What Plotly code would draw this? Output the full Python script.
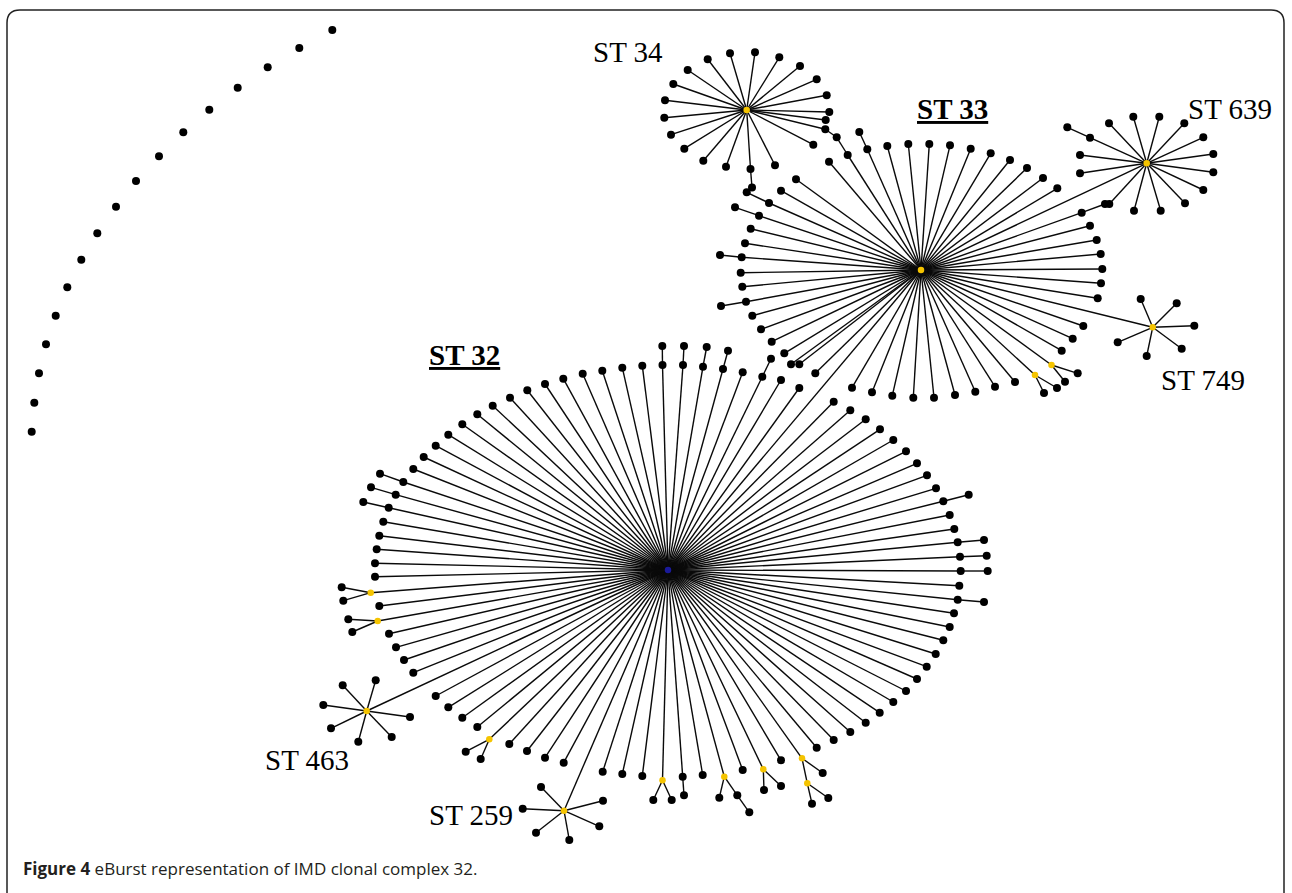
import plotly.graph_objects as go

W, H = 1292, 893

# ---- node data (pixel-like layout coordinates) ----
# star centres: name -> (x, y, colour kind)
CENTERS = {
    "ST 32": (668, 570, "b"),
    "ST 33": (921, 270, "y"),
    "ST 34": (746.7, 110, "y"),
    "ST 639": (1146.7, 163.3, "y"),
    "ST 749": (1152.7, 327.3, "y"),
    "ST 463": (366.7, 711, "y"),
    "ST 259": (564, 810.7, "y"),
}
LINKS = [("ST 32", "ST 33"), ("ST 33", "ST 639"), ("ST 33", "ST 749"),
         ("ST 32", "ST 463"), ("ST 32", "ST 259")]

ST32_LEAVES = [
    (375, 576.7, "k"), (375, 563.3, "k"), (376.7, 549.3, "k"), (379.3, 535.7, "k"), (383.3, 521.7, "k"),
    (388.7, 507.7, "k"), (395.7, 494.7, "k"), (403.3, 482, "k"), (413.3, 469, "k"), (423.7, 457, "k"),
    (435.7, 445.7, "k"), (448.3, 434.7, "k"), (462.3, 424.3, "k"), (477.3, 414.3, "k"), (492.7, 405.7, "k"),
    (510, 397.7, "k"), (527.3, 390.3, "k"), (545, 384, "k"), (563.3, 378.7, "k"), (582.7, 373.7, "k"),
    (602.3, 370.7, "k"), (622.3, 367.7, "k"), (642.3, 365.7, "k"), (662.5, 365, "k"), (683, 365, "k"),
    (703, 366.7, "k"), (723, 369, "k"), (742.7, 372.3, "k"), (762.3, 376.7, "k"), (781, 380, "k"),
    (799.3, 388, "k"), (833.7, 401.7, "k"), (850.3, 410.3, "k"), (865.7, 419.3, "k"), (880, 429.3, "k"),
    (893.3, 440, "k"), (906, 451.3, "k"), (917, 463.3, "k"), (927, 475.3, "k"), (936, 488.3, "k"),
    (943.3, 501.3, "k"), (949.7, 515, "k"), (954.3, 529, "k"), (957.7, 542.3, "k"), (960, 556.7, "k"),
    (960.7, 571, "k"), (959.3, 585.7, "k"), (957.7, 599.7, "k"), (954, 613.3, "k"), (949.7, 627, "k"),
    (943.3, 640.3, "k"), (935.7, 654, "k"), (926.7, 666.7, "k"), (917, 679, "k"), (906, 691, "k"),
    (893.3, 702, "k"), (879.7, 712.7, "k"), (865.7, 722.7, "k"), (850.3, 732, "k"), (833.7, 740, "k"),
    (816.7, 747.7, "k"), (802, 758.3, "y"), (781, 760.3, "k"), (763.3, 769.3, "y"), (742.7, 770, "k"),
    (724.3, 776.7, "y"), (702.7, 775, "k"), (682.7, 776.7, "k"), (662.5, 780.3, "y"), (642.3, 776, "k"),
    (622.3, 774, "k"), (602.7, 771.7, "k"), (563.7, 762.7, "k"), (545, 757.7, "k"), (527, 751, "k"),
    (509.3, 744, "k"), (489.3, 739.3, "y"), (477.3, 727, "k"), (462.3, 717.7, "k"), (448.3, 707.3, "k"),
    (435.7, 696, "k"), (413.3, 672.7, "k"), (404, 660, "k"), (396, 647.3, "k"), (389, 633.7, "k"),
    (377.7, 621, "y"), (379.3, 606, "k"), (370.7, 592.7, "y"),
]
ST32_CHILDREN = [
    (388.7, 507.7, 363.3, 502, "k"), (395.7, 494.7, 371, 487.3, "k"), (403.3, 482, 380, 473.7, "k"),
    (662.5, 365, 662.3, 346, "k"), (683, 365, 684, 346, "k"), (703, 366.7, 706.7, 347, "k"),
    (723, 369, 728, 350.7, "k"), (762.3, 376.7, 771, 358.7, "k"),
    (943.3, 501.3, 968.7, 494.7, "k"), (957.7, 542.3, 984, 540, "k"), (960, 556.7, 986.7, 555.7, "k"),
    (960.7, 571, 987.7, 571, "k"), (957.7, 599.7, 984, 602, "k"),
    (802, 758.3, 822.7, 773, "k"), (802, 758.3, 807.3, 783.3, "y"),
    (807.3, 783.3, 812, 803.7, "k"), (807.3, 783.3, 828.3, 798, "k"),
    (763.3, 769.3, 764, 790, "k"), (763.3, 769.3, 781, 786, "k"),
    (724.3, 776.7, 719.3, 797.7, "k"), (724.3, 776.7, 737.3, 795.3, "k"), (737.3, 795.3, 749.3, 812.3, "k"),
    (682.7, 776.7, 684, 795.3, "k"),
    (662.5, 780.3, 653.3, 800, "k"), (662.5, 780.3, 671.7, 800, "k"),
    (489.3, 739.3, 465.7, 751.7, "k"), (489.3, 739.3, 480.7, 759, "k"),
    (377.7, 621, 348.3, 619.3, "k"), (377.7, 621, 352.3, 632, "k"),
    (370.7, 592.7, 341.7, 587.3, "k"), (370.7, 592.7, 343.3, 600.7, "k"),
]

ST33_LEAVES = [
    (887.3, 146, "k"), (908.3, 144, "k"), (929.3, 144, "k"), (950, 145.3, "k"), (970.7, 148.7, "k"),
    (990.7, 153.3, "k"), (1010, 160, "k"), (1027, 168, "k"), (1043, 178, "k"), (1057.3, 188.3, "k"),
    (1081.7, 212.7, "k"), (1090, 225.7, "k"), (1096.7, 240, "k"), (1100.7, 254, "k"), (1102.3, 269, "k"),
    (1101, 283.3, "k"), (1097.7, 298.3, "k"), (1083.3, 326, "k"), (1072.7, 338.7, "k"), (1061.7, 350.7, "k"),
    (1051.5, 365, "y"), (1035, 375, "y"), (1015, 382, "k"), (995, 386.7, "k"), (975.3, 391.7, "k"),
    (955, 395, "k"), (934, 397.7, "k"), (913.3, 397.7, "k"), (892.3, 395.7, "k"), (872, 392.3, "k"),
    (852, 387.7, "k"), (815.3, 373.3, "k"), (799.3, 364.3, "k"), (791, 364.3, "k"), (784.3, 353.3, "k"),
    (771.7, 341.7, "k"), (761, 329.3, "k"), (752.3, 315.7, "k"), (746, 301.7, "k"), (742.3, 286.7, "k"),
    (740.7, 272.7, "k"), (741.7, 257.3, "k"), (745, 243.3, "k"), (750.7, 228.7, "k"), (759, 215.7, "k"),
    (769, 203, "k"), (781, 190.7, "k"), (796, 179.3, "k"), (829, 161.7, "k"), (847.7, 155, "k"),
    (867.3, 149.3, "k"),
]
ST33_CHILDREN = [
    (746, 301.7, 721, 306, "k"), (741.7, 257.3, 720, 255, "k"), (759, 215.7, 735, 207.3, "k"),
    (769, 203, 746.7, 192.3, "k"), (867.3, 149.3, 859.3, 132, "k"), (1081.7, 212.7, 1105, 204, "k"),
    (1051.5, 365, 1077.7, 373.3, "k"), (1051.5, 365, 1065, 381.7, "k"),
    (1035, 375, 1044, 393, "k"), (1035, 375, 1057, 388, "k"),
]

ST34_LEAVES = [
    (730, 53.3, "k"), (755, 52.3, "k"), (779.3, 57.3, "k"), (800, 66, "k"), (816.7, 79.3, "k"),
    (826.7, 95.3, "k"), (829.3, 112, "k"), (825.7, 120, "k"), (825.3, 129.3, "k"), (813.3, 144.7, "k"),
    (775, 165.3, "k"), (750.5, 169, "k"), (726, 166.7, "k"), (703.3, 160.7, "k"), (684.3, 148.7, "k"),
    (671, 134.7, "k"), (664.3, 117.7, "k"), (665, 100.3, "k"), (673.3, 84, "k"), (687.7, 70, "k"),
    (707.7, 59.3, "k"),
]
ST34_CHILDREN = [(750.5, 169, 752, 187.5, "k"), (825.3, 129.3, 836.7, 137.3, "k")]
BRIDGES = [(836.7, 137.3, 847.7, 155)]

ST639_LEAVES = [
    (1090, 137.7, "k"), (1109, 123.3, "k"), (1133.3, 116.7, "k"), (1159.3, 116.7, "k"), (1184.3, 123.3, "k"),
    (1203.3, 137.3, "k"), (1213.3, 154, "k"), (1213.3, 172.3, "k"), (1203.3, 190, "k"), (1185, 203.3, "k"),
    (1160.7, 210.7, "k"), (1134, 210.7, "k"), (1109.3, 204, "k"), (1080, 155, "k"), (1080, 173.3, "k"),
]
ST639_CHILDREN = [(1090, 137.7, 1067.3, 127.3, "k")]

ST749_LEAVES = [(1140.7, 299, "k"), (1176.7, 303.3, "k"), (1194.3, 325.7, "k"), (1181.7, 348.7, "k"),
                (1146.7, 356, "k"), (1117.7, 342.3, "k")]
ST463_LEAVES = [(342.7, 685.3, "k"), (375.7, 680.3, "k"), (323.3, 705, "k"), (410, 717, "k"),
                (331, 728.3, "k"), (358.3, 741.7, "k"), (391.7, 737, "k")]
ST259_LEAVES = [(522.7, 808.7, "k"), (541, 787, "k"), (603, 800.7, "k"), (599.3, 826.3, "k"),
                (536, 832.7, "k"), (569.3, 840, "k")]

SINGLETONS_X = [332.3, 299.3, 267.7, 237.7, 209.3, 183.3, 159, 136, 116, 97.3, 81.3, 67.3, 55.7, 46, 39, 34.3, 31.7]
SINGLETONS_Y = [30, 48, 67.3, 87.7, 109.7, 132.3, 156.3, 181, 206.7, 233.3, 259.7, 287.3, 315.7, 344.3, 373.3, 402.7, 431.7]

LABELS = [  # text, x, y, bold
    ("ST 34", 628, 52, False), ("ST 33", 952, 109, True), ("ST 639", 1230, 109, False),
    ("ST 749", 1203, 380, False), ("ST 32", 464, 355, True), ("ST 463", 307, 760, False),
    ("ST 259", 471, 815, False),
]
CAPTION_BOLD = "Figure 4"
CAPTION_TEXT = " eBurst representation of IMD clonal complex 32."

# ---- build graph ----
STARS = [("ST 32", ST32_LEAVES, ST32_CHILDREN), ("ST 33", ST33_LEAVES, ST33_CHILDREN),
         ("ST 34", ST34_LEAVES, ST34_CHILDREN), ("ST 639", ST639_LEAVES, ST639_CHILDREN),
         ("ST 749", ST749_LEAVES, []), ("ST 463", ST463_LEAVES, []), ("ST 259", ST259_LEAVES, [])]

ex, ey = [], []
nodes = {"k": ([], []), "y": ([], []), "b": ([], [])}


def edge(x0, y0, x1, y1):
    ex.extend([x0, x1, None])
    ey.extend([y0, y1, None])


for a, b in LINKS:
    edge(CENTERS[a][0], CENTERS[a][1], CENTERS[b][0], CENTERS[b][1])
for name, leaves, children in STARS:
    cx, cy, ck = CENTERS[name]
    for lx, ly, lk in leaves:
        edge(cx, cy, lx, ly)
        nodes[lk][0].append(lx)
        nodes[lk][1].append(ly)
    for px, py, qx, qy, qk in children:
        edge(px, py, qx, qy)
        nodes[qk][0].append(qx)
        nodes[qk][1].append(qy)
for px, py, qx, qy in BRIDGES:
    edge(px, py, qx, qy)
for name, (cx, cy, ck) in CENTERS.items():
    nodes[ck][0].append(cx)
    nodes[ck][1].append(cy)
nodes["k"][0].extend(SINGLETONS_X)
nodes["k"][1].extend(SINGLETONS_Y)

fig = go.Figure()
fig.add_trace(go.Scatter(x=ex, y=ey, mode="lines", line=dict(color="#0a0a0a", width=1.4),
                         hoverinfo="skip", showlegend=False))
fig.add_trace(go.Scatter(x=nodes["k"][0], y=nodes["k"][1], mode="markers",
                         marker=dict(color="#000000", size=8, line=dict(width=0)),
                         hoverinfo="skip", showlegend=False))
fig.add_trace(go.Scatter(x=nodes["y"][0], y=nodes["y"][1], mode="markers",
                         marker=dict(color="#f5c400", size=6.5, line=dict(width=0)),
                         hoverinfo="skip", showlegend=False))
fig.add_trace(go.Scatter(x=nodes["b"][0], y=nodes["b"][1], mode="markers",
                         marker=dict(color="#1a1a99", size=6.5, line=dict(width=0)),
                         hoverinfo="skip", showlegend=False))

annotations = []
for text, x, y, bold in LABELS:
    t = f"<b><u>{text}</u></b>" if bold else text
    annotations.append(dict(x=x, y=y, xref="x", yref="y", text=t, showarrow=False,
                            xanchor="center", yanchor="middle",
                            font=dict(family="Liberation Serif", size=29, color="#000000")))
annotations.append(dict(x=21, y=868, xref="x", yref="y", showarrow=False, xanchor="left", yanchor="middle",
                        text=f"<b>{CAPTION_BOLD}</b>{CAPTION_TEXT}",
                        font=dict(family="Open Sans", size=17, color="#231f20")))

frame = ("M 7,896 L 7,23 Q 7,10 20,10 L 1271,10 Q 1284,10 1284,23 L 1284,896")

fig.update_layout(
    width=W, height=H, margin=dict(l=0, r=0, t=0, b=0),
    paper_bgcolor="white", plot_bgcolor="white",
    xaxis=dict(range=[0, W], visible=False, fixedrange=True),
    yaxis=dict(range=[H, 0], visible=False, fixedrange=True),
    annotations=annotations,
    shapes=[dict(type="path", path=frame, xref="x", yref="y",
                 line=dict(color="#222222", width=1.5), layer="above")],
)

fig.write_html("out.html", config={"displayModeBar": False},
               post_script="document.body.style.margin='0px';")
